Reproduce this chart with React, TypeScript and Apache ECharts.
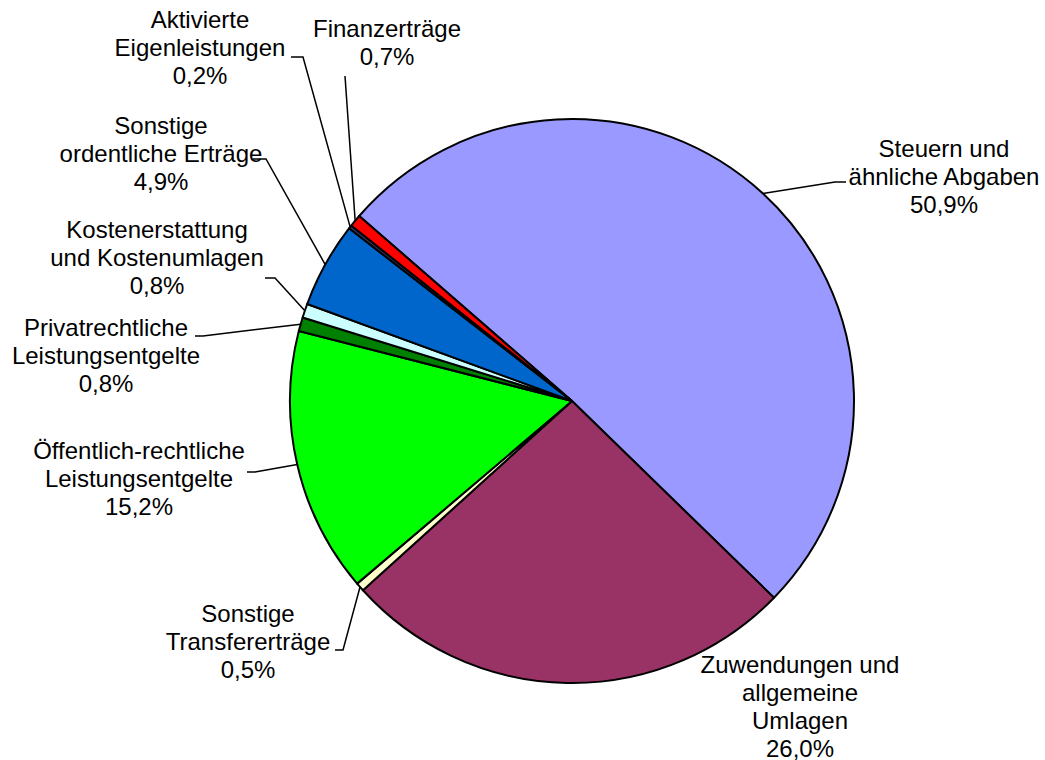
import React, { useEffect, useRef } from 'react';
import * as echarts from 'echarts';

const categories = [
  'Steuern und ähnliche Abgaben',
  'Zuwendungen und allgemeine Umlagen',
  'Sonstige Transfererträge',
  'Öffentlich-rechtliche Leistungsentgelte',
  'Privatrechtliche Leistungsentgelte',
  'Kostenerstattung und Kostenumlagen',
  'Sonstige ordentliche Erträge',
  'Aktivierte Eigenleistungen',
  'Finanzerträge',
];

const labelNames = [
  'Steuern und\nähnliche Abgaben',
  'Zuwendungen und\nallgemeine\nUmlagen',
  'Sonstige\nTransfererträge',
  'Öffentlich-rechtliche\nLeistungsentgelte',
  'Privatrechtliche\nLeistungsentgelte',
  'Kostenerstattung\nund Kostenumlagen',
  'Sonstige\nordentliche Erträge',
  'Aktivierte\nEigenleistungen',
  'Finanzerträge',
];

const shares = [50.9, 26.0, 0.5, 15.2, 0.8, 0.8, 4.9, 0.2, 0.7];

const colors = [
  '#9999FF',
  '#993366',
  '#FFFFCC',
  '#00FF00',
  '#008000',
  '#CCFFFF',
  '#0066CC',
  '#333366',
  '#FF0000',
];

// label block centres (layout only)
const labelAnchors: [number, number][] = [
  [944, 176],
  [800, 706],
  [248, 641],
  [139, 478],
  [106, 355],
  [157, 257],
  [161, 153],
  [200, 47],
  [387, 42],
];

// leader line bends near the label text (layout only)
const leaderElbows: ([number, number][] | null)[] = [
  [[835, 182], [846, 182]],
  null,
  [[343, 650], [335, 650]],
  [[255, 472], [247, 472]],
  [[203, 336], [195, 336]],
  [[275, 278], [265, 278]],
  [[266, 159], [253, 159]],
  [[303, 57], [291, 57]],
  [[345, 76]],
];

const fmt = (v: number) => v.toFixed(1).replace('.', ',') + '%';

export default function App() {
  const ref = useRef<HTMLDivElement>(null);
  useEffect(() => {
    document.body.style.margin = '0';
    const chart = echarts.init(ref.current!, null, { renderer: 'svg' });
    chart.setOption({
      animation: false,
      backgroundColor: '#ffffff',
      series: [
        {
          type: 'pie',
          center: [572, 401],
          radius: 282,
          startAngle: 139,
          clockwise: true,
          avoidLabelOverlap: false,
          emphasis: { disabled: true },
          itemStyle: { borderColor: '#000000', borderWidth: 2 },
          label: {
            show: true,
            position: 'outside',
            formatter: (p: any) => labelNames[p.dataIndex] + '\n' + fmt(shares[p.dataIndex]),
            fontFamily: '"Liberation Sans", Arial, sans-serif',
            fontSize: 24,
            lineHeight: 28,
            color: '#000000',
            align: 'center',
          },
          labelLine: {
            show: true,
            length: 10,
            length2: 10,
            lineStyle: { color: '#000000', width: 1.5 },
          },
          labelLayout: (params: any) => {
            const i = params.dataIndex;
            const [x, y] = labelAnchors[i];
            const out: any = { x, y, align: 'center', verticalAlign: 'middle' };
            const elbow = leaderElbows[i];
            if (elbow && params.labelLinePoints && params.labelLinePoints[0]) {
              out.labelLinePoints = [params.labelLinePoints[0], ...elbow];
            }
            return out;
          },
          data: categories.map((c, i) => ({
            name: c,
            value: shares[i],
            itemStyle: { color: colors[i] },
            labelLine: { show: leaderElbows[i] != null },
          })),
        },
      ],
    });
    return () => chart.dispose();
  }, []);
  return <div ref={ref} style={{ width: 1045, height: 760 }} />;
}
